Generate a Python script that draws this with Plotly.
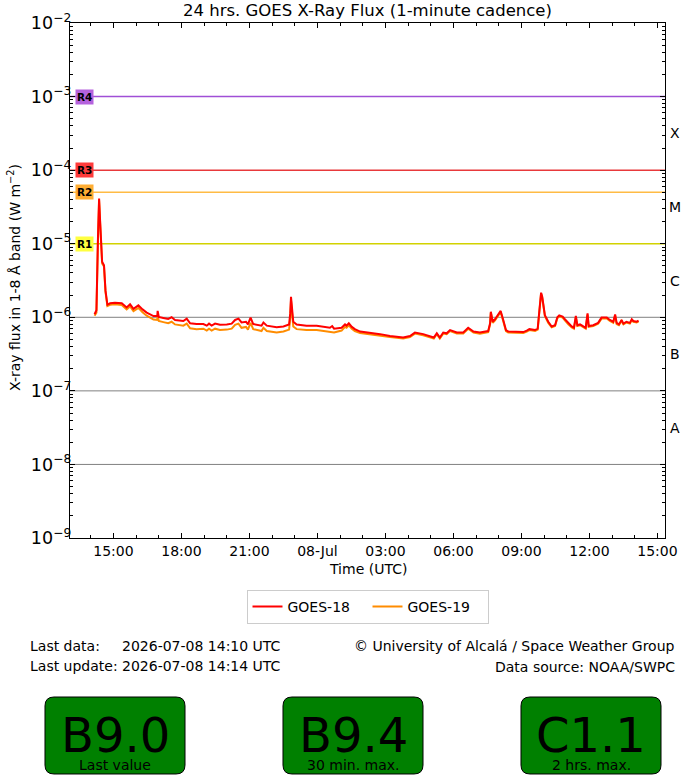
import numpy as np
import plotly.graph_objects as go

# GOES 1-8 A X-ray flux (W m^-2)
times = [
    "2026-07-07 14:10", "2026-07-07 14:15", "2026-07-07 14:19", "2026-07-07 14:22", "2026-07-07 14:25",
    "2026-07-07 14:30", "2026-07-07 14:35", "2026-07-07 14:39", "2026-07-07 14:44", "2026-07-07 14:51",
    "2026-07-07 15:04", "2026-07-07 15:22", "2026-07-07 15:35", "2026-07-07 15:44", "2026-07-07 15:53",
    "2026-07-07 16:06", "2026-07-07 16:17", "2026-07-07 16:28", "2026-07-07 16:46", "2026-07-07 16:56",
    "2026-07-07 16:57", "2026-07-07 17:00", "2026-07-07 17:12", "2026-07-07 17:25", "2026-07-07 17:34",
    "2026-07-07 17:43", "2026-07-07 18:05", "2026-07-07 18:14", "2026-07-07 18:23", "2026-07-07 18:40",
    "2026-07-07 18:58", "2026-07-07 19:07", "2026-07-07 19:13", "2026-07-07 19:20", "2026-07-07 19:29",
    "2026-07-07 19:42", "2026-07-07 20:00", "2026-07-07 20:13", "2026-07-07 20:22", "2026-07-07 20:31",
    "2026-07-07 20:39", "2026-07-07 20:51", "2026-07-07 20:56", "2026-07-07 21:03", "2026-07-07 21:10",
    "2026-07-07 21:23", "2026-07-07 21:32", "2026-07-07 21:37", "2026-07-07 21:46", "2026-07-07 22:12",
    "2026-07-07 22:30", "2026-07-07 22:45", "2026-07-07 22:48", "2026-07-07 22:50", "2026-07-07 22:53",
    "2026-07-07 22:56", "2026-07-07 23:05", "2026-07-07 23:31", "2026-07-07 23:58", "2026-07-08 00:16",
    "2026-07-08 00:33", "2026-07-08 00:39", "2026-07-08 00:44", "2026-07-08 01:04", "2026-07-08 01:13",
    "2026-07-08 01:17", "2026-07-08 01:23", "2026-07-08 01:31", "2026-07-08 01:39", "2026-07-08 01:53",
    "2026-07-08 02:19", "2026-07-08 02:46", "2026-07-08 03:12", "2026-07-08 03:47", "2026-07-08 04:05",
    "2026-07-08 04:18", "2026-07-08 04:40", "2026-07-08 05:02", "2026-07-08 05:08", "2026-07-08 05:16",
    "2026-07-08 05:24", "2026-07-08 05:33", "2026-07-08 05:42", "2026-07-08 05:51", "2026-07-08 06:09",
    "2026-07-08 06:26", "2026-07-08 06:39", "2026-07-08 06:53", "2026-07-08 07:10", "2026-07-08 07:32",
    "2026-07-08 07:37", "2026-07-08 07:39", "2026-07-08 07:44", "2026-07-08 07:50", "2026-07-08 07:56",
    "2026-07-08 08:05", "2026-07-08 08:12", "2026-07-08 08:19", "2026-07-08 08:25", "2026-07-08 08:47",
    "2026-07-08 09:05", "2026-07-08 09:14", "2026-07-08 09:21", "2026-07-08 09:36", "2026-07-08 09:43",
    "2026-07-08 09:46", "2026-07-08 09:49", "2026-07-08 09:52", "2026-07-08 09:55", "2026-07-08 09:58",
    "2026-07-08 10:02", "2026-07-08 10:11", "2026-07-08 10:20", "2026-07-08 10:29", "2026-07-08 10:35",
    "2026-07-08 10:40", "2026-07-08 10:49", "2026-07-08 10:55", "2026-07-08 11:04", "2026-07-08 11:13",
    "2026-07-08 11:19", "2026-07-08 11:24", "2026-07-08 11:28", "2026-07-08 11:35", "2026-07-08 11:44",
    "2026-07-08 11:50", "2026-07-08 11:55", "2026-07-08 11:58", "2026-07-08 12:10", "2026-07-08 12:23",
    "2026-07-08 12:32", "2026-07-08 12:46", "2026-07-08 12:54", "2026-07-08 13:03", "2026-07-08 13:08",
    "2026-07-08 13:12", "2026-07-08 13:18", "2026-07-08 13:25", "2026-07-08 13:30", "2026-07-08 13:38",
    "2026-07-08 13:47", "2026-07-08 13:52", "2026-07-08 13:56", "2026-07-08 14:05", "2026-07-08 14:10",
]

goes18 = [
    1.10e-6, 1.25e-6, 1.2e-5, 4.1e-5, 1.9e-5,
    5.7e-6, 5.1e-6, 2.3e-6, 1.48e-6, 1.55e-6,
    1.57e-6, 1.55e-6, 1.36e-6, 1.50e-6, 1.30e-6,
    1.45e-6, 1.28e-6, 1.16e-6, 1.04e-6, 1.04e-6,
    1.22e-6, 1.01e-6, 0.98e-6, 0.95e-6, 1.00e-6,
    0.92e-6, 0.89e-6, 0.96e-6, 0.83e-6, 0.81e-6,
    0.81e-6, 0.77e-6, 0.82e-6, 0.77e-6, 0.82e-6,
    0.79e-6, 0.80e-6, 0.82e-6, 0.92e-6, 0.96e-6,
    0.85e-6, 0.87e-6, 0.80e-6, 0.99e-6, 0.81e-6,
    0.78e-6, 0.77e-6, 0.85e-6, 0.77e-6, 0.73e-6,
    0.75e-6, 0.80e-6, 1.13e-6, 1.90e-6, 1.25e-6,
    0.87e-6, 0.80e-6, 0.77e-6, 0.77e-6, 0.74e-6,
    0.72e-6, 0.76e-6, 0.70e-6, 0.72e-6, 0.80e-6,
    0.77e-6, 0.83e-6, 0.74e-6, 0.69e-6, 0.64e-6,
    0.62e-6, 0.59e-6, 0.557e-6, 0.53e-6, 0.557e-6,
    0.62e-6, 0.59e-6, 0.54e-6, 0.53e-6, 0.605e-6,
    0.53e-6, 0.62e-6, 0.605e-6, 0.67e-6, 0.62e-6,
    0.62e-6, 0.72e-6, 0.64e-6, 0.62e-6, 0.65e-6,
    0.83e-6, 1.19e-6, 0.87e-6, 0.94e-6, 1.04e-6,
    1.22e-6, 0.91e-6, 0.67e-6, 0.64e-6, 0.63e-6,
    0.63e-6, 0.66e-6, 0.69e-6, 0.67e-6, 0.70e-6,
    1.02e-6, 1.72e-6, 2.16e-6, 1.90e-6, 1.55e-6,
    1.07e-6, 0.87e-6, 0.75e-6, 0.78e-6, 1.00e-6,
    1.06e-6, 1.02e-6, 0.94e-6, 0.83e-6, 0.75e-6,
    0.72e-6, 1.04e-6, 0.78e-6, 0.80e-6, 0.75e-6,
    0.72e-6, 1.13e-6, 0.76e-6, 0.78e-6, 0.84e-6,
    0.99e-6, 0.99e-6, 0.92e-6, 0.87e-6, 1.09e-6,
    0.84e-6, 0.80e-6, 0.92e-6, 0.82e-6, 0.87e-6,
    0.84e-6, 0.94e-6, 0.89e-6, 0.87e-6, 0.90e-6,
]

goes19 = [
    1.05e-6, 1.15e-6, 1.1e-5, 3.9e-5, 1.8e-5,
    5.4e-6, 4.9e-6, 2.2e-6, 1.42e-6, 1.48e-6,
    1.50e-6, 1.47e-6, 1.28e-6, 1.40e-6, 1.21e-6,
    1.34e-6, 1.17e-6, 1.05e-6, 0.93e-6, 0.92e-6,
    1.05e-6, 0.89e-6, 0.86e-6, 0.83e-6, 0.87e-6,
    0.80e-6, 0.77e-6, 0.82e-6, 0.71e-6, 0.69e-6,
    0.70e-6, 0.66e-6, 0.70e-6, 0.66e-6, 0.70e-6,
    0.67e-6, 0.68e-6, 0.70e-6, 0.79e-6, 0.82e-6,
    0.72e-6, 0.74e-6, 0.68e-6, 0.84e-6, 0.69e-6,
    0.66e-6, 0.65e-6, 0.72e-6, 0.65e-6, 0.62e-6,
    0.64e-6, 0.68e-6, 0.98e-6, 1.70e-6, 1.08e-6,
    0.75e-6, 0.69e-6, 0.67e-6, 0.67e-6, 0.65e-6,
    0.64e-6, 0.62e-6, 0.62e-6, 0.66e-6, 0.74e-6,
    0.72e-6, 0.78e-6, 0.70e-6, 0.65e-6, 0.61e-6,
    0.59e-6, 0.57e-6, 0.54e-6, 0.515e-6, 0.54e-6,
    0.60e-6, 0.57e-6, 0.525e-6, 0.515e-6, 0.59e-6,
    0.515e-6, 0.60e-6, 0.59e-6, 0.65e-6, 0.60e-6,
    0.60e-6, 0.70e-6, 0.62e-6, 0.60e-6, 0.63e-6,
    0.80e-6, 1.15e-6, 0.84e-6, 0.91e-6, 1.01e-6,
    1.18e-6, 0.88e-6, 0.65e-6, 0.62e-6, 0.61e-6,
    0.61e-6, 0.64e-6, 0.67e-6, 0.65e-6, 0.68e-6,
    0.99e-6, 1.67e-6, 2.10e-6, 1.85e-6, 1.50e-6,
    1.04e-6, 0.84e-6, 0.73e-6, 0.76e-6, 0.97e-6,
    1.03e-6, 0.99e-6, 0.91e-6, 0.80e-6, 0.73e-6,
    0.70e-6, 1.00e-6, 0.76e-6, 0.78e-6, 0.73e-6,
    0.70e-6, 1.09e-6, 0.74e-6, 0.76e-6, 0.82e-6,
    0.96e-6, 0.96e-6, 0.89e-6, 0.84e-6, 1.05e-6,
    0.81e-6, 0.78e-6, 0.89e-6, 0.80e-6, 0.85e-6,
    0.82e-6, 0.91e-6, 0.87e-6, 0.85e-6, 0.88e-6,
]

x_range = ["2026-07-07 13:05", "2026-07-08 15:20"]
tick_times = ["2026-07-07 15:00", "2026-07-07 18:00", "2026-07-07 21:00", "2026-07-08 00:00",
              "2026-07-08 03:00", "2026-07-08 06:00", "2026-07-08 09:00", "2026-07-08 12:00",
              "2026-07-08 15:00"]
tick_labels = ["15:00", "18:00", "21:00", "08-Jul", "03:00", "06:00", "09:00", "12:00", "15:00"]

# radio blackout thresholds
r_names = ["R4", "R3", "R2", "R1"]
r_levels = [1e-3, 1e-4, 5e-5, 1e-5]
r_line_colors = ["#a04fd6", "#e8393b", "#ffbb44", "#d2d200"]
r_box_colors = ["#b562dd", "#ff3b3b", "#ffad33", "#ffff40"]
grid_levels = [1e-6, 1e-7, 1e-8]

flare_classes = ["X", "M", "C", "B", "A"]
class_floor = [1e-4, 1e-5, 1e-6, 1e-7, 1e-8]

box_values = ["B9.0", "B9.4", "C1.1"]
box_labels = ["Last value", "30 min. max.", "2 hrs. max."]

FONT = "DejaVu Sans"
W, H = 700, 780
ML, MR, MT, MB = 70, 35, 23, 242


def px(x):
    return (x - ML) / (W - ML - MR)


def py(y):
    return (H - MB - y) / (H - MT - MB)


def rounded_box(x0, y0, x1, y1, r=9):
    pts = [
        ("M", [(x0 + r, y0)]), ("L", [(x1 - r, y0)]), ("Q", [(x1, y0), (x1, y0 + r)]),
        ("L", [(x1, y1 - r)]), ("Q", [(x1, y1), (x1 - r, y1)]),
        ("L", [(x0 + r, y1)]), ("Q", [(x0, y1), (x0, y1 - r)]),
        ("L", [(x0, y0 + r)]), ("Q", [(x0, y0), (x0 + r, y0)]),
    ]
    path = ""
    for cmd, coords in pts:
        path += cmd + " ".join(f"{px(a):.5f},{py(b):.5f}" for a, b in coords) + " "
    return path + "Z"


fig = go.Figure()

for lvl in grid_levels:
    fig.add_trace(go.Scatter(x=x_range, y=[lvl, lvl], mode="lines", showlegend=False,
                             hoverinfo="skip", line=dict(color="#808080", width=1)))
for name, lvl, col in zip(r_names, r_levels, r_line_colors):
    fig.add_trace(go.Scatter(x=x_range, y=[lvl, lvl], mode="lines", showlegend=False,
                             hoverinfo="skip", line=dict(color=col, width=1.5)))

fig.add_trace(go.Scatter(x=times, y=goes19, mode="lines", name="GOES-19", legendrank=2,
                         line=dict(color="#ff8c00", width=2)))
fig.add_trace(go.Scatter(x=times, y=goes18, mode="lines", name="GOES-18", legendrank=1,
                         line=dict(color="#ff0000", width=2)))

annotations = []
for name, lvl, col in zip(r_names, r_levels, r_box_colors):
    annotations.append(dict(x=px(84.5), y=np.log10(lvl), yref="y", text=f"<b>{name}</b>",
                            bgcolor=col, borderpad=1, font=dict(family=FONT, size=10.5, color="black")))
for cls, lo in zip(flare_classes, class_floor):
    annotations.append(dict(x=px(675), y=np.log10(lo) + 0.5, yref="y", text=cls, font_size=14))

annotations += [
    dict(x=0.5, y=py(569), text="Time (UTC)", font_size=14),
    dict(x=px(14), y=py(278), text="X-ray flux in 1-8 Å band (W m<sup>−2</sup>)", textangle=-90, font_size=14),
    dict(x=px(28), y=py(646), text="Last data:", xanchor="left", font_size=14),
    dict(x=px(28), y=py(666), text="Last update:", xanchor="left", font_size=14),
    dict(x=px(120), y=py(646), text="2026-07-08 14:10 UTC", xanchor="left", font_size=14),
    dict(x=px(120), y=py(666), text="2026-07-08 14:14 UTC", xanchor="left", font_size=14),
    dict(x=px(677), y=py(646), text="© University of Alcalá / Space Weather Group", xanchor="right", font_size=14),
    dict(x=px(677), y=py(667), text="Data source: NOAA/SWPC", xanchor="right", font_size=14),
]

shapes = []
box_left = [45, 283, 521]
for x0, val, lab in zip(box_left, box_values, box_labels):
    shapes.append(dict(type="path", xref="paper", yref="paper", path=rounded_box(x0, 697, x0 + 140, 774),
                       fillcolor="#008000", line=dict(color="black", width=1)))
    annotations.append(dict(x=px(x0 + 70), y=py(735), text=val, font_size=48))
    annotations.append(dict(x=px(x0 + 70), y=py(765), text=lab, font_size=14))

for a in annotations:
    a.setdefault("xref", "paper")
    a.setdefault("yref", "paper")
    a.setdefault("showarrow", False)
    a.setdefault("xanchor", "center")
    a.setdefault("yanchor", "middle")
    if "font_size" in a:
        a["font"] = dict(family=FONT, size=a.pop("font_size"), color="black")

fig.update_layout(
    width=W, height=H,
    margin=dict(l=ML, r=MR, t=MT, b=MB, pad=0),
    paper_bgcolor="white", plot_bgcolor="white",
    font=dict(family=FONT, size=14, color="black"),
    title=dict(text="24 hrs. GOES X-Ray Flux (1-minute cadence)", x=0.5, xref="paper",
               y=1 - 10 / H, yanchor="middle", font=dict(family=FONT, size=16.5, color="black")),
    showlegend=True,
    legend=dict(orientation="h", x=0.5, xanchor="center", y=py(590), yanchor="top",
                bordercolor="#cccccc", borderwidth=1, bgcolor="white", itemwidth=30,
                entrywidth=75, font=dict(family=FONT, size=14, color="black")),
    annotations=annotations,
    shapes=shapes,
)

fig.update_xaxes(
    type="date", range=x_range, tickmode="array", tickvals=tick_times, ticktext=tick_labels,
    showgrid=False, zeroline=False, showline=True, linecolor="black", linewidth=1, mirror="allticks",
    ticks="inside", ticklen=5, tickcolor="black", tickfont=dict(family=FONT, size=14),
    minor=dict(tickmode="linear", tick0="2026-07-07 13:00", dtick=3600000, ticks="inside",
               ticklen=3, tickcolor="black"),
)
fig.update_yaxes(
    type="log", range=[-9, -2], dtick=1, exponentformat="power",
    showgrid=False, zeroline=False, showline=True, linecolor="black", linewidth=1, mirror="allticks",
    ticks="inside", ticklen=5, tickcolor="black", tickfont=dict(family=FONT, size=14),
    ticklabelstandoff=-5,
    minor=dict(dtick="D1", ticks="inside", ticklen=3, tickcolor="black"),
)

# the page's default body margin would push the figure 8 px off the window corner
fig.write_html("out.html", config={"displayModeBar": False},
               post_script="document.body.style.margin = '0px';")
